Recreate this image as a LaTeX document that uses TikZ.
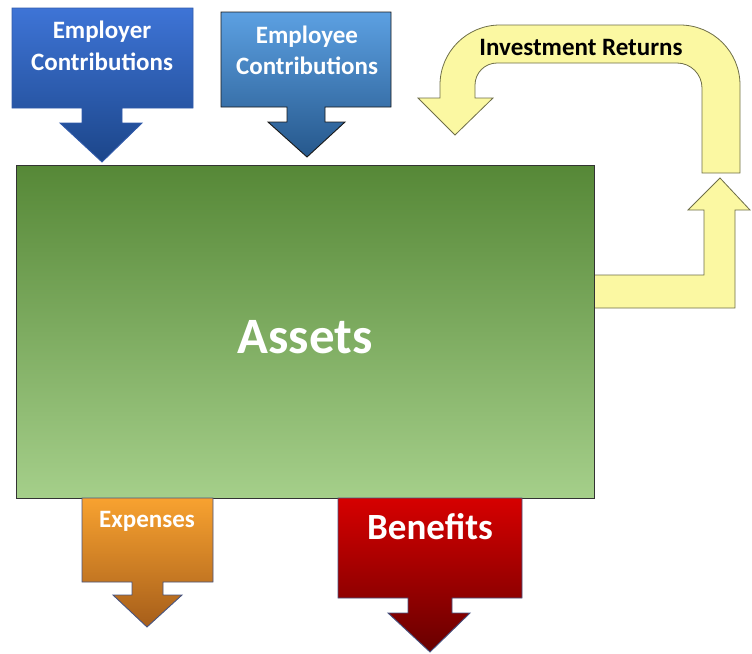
\documentclass[tikz,border=0pt]{standalone}
\usepackage{fontspec}
\setmainfont{Carlito}
\begin{document}
\begin{tikzpicture}[x=1pt,y=-1pt,
  lbl/.style={text=white,font=\bfseries,align=center,inner sep=0pt},
  callout/.style={line width=0.9pt,line join=miter}]
\definecolor{flowyellow}{HTML}{FBF8A2}
\definecolor{flowedge}{HTML}{6E6E48}
\useasboundingbox (0,0) rectangle (752,653);

% investment return loop (U-turn arrow back into the assets)
\path[fill=flowyellow,draw=flowedge,line width=0.8pt]
  (740,173) -- (740,85) arc[start angle=0,end angle=-90,radius=60]
  -- (500,25) arc[start angle=-90,end angle=-180,radius=60]
  -- (440,98) -- (418,98) -- (455,135) -- (493,98) -- (475,98)
  -- (475,85) arc[start angle=180,end angle=270,radius=22]
  -- (677,63) arc[start angle=270,end angle=360,radius=25]
  -- (702,173) -- cycle;
% outflow from the assets up to the loop
\path[fill=flowyellow,draw=flowedge,line width=0.8pt]
  (594,275) -- (704,275) -- (704,210) -- (688,210) -- (720,178)
  -- (750,210) -- (735,210) -- (735,308) -- (594,308);

% assets pool
\path[draw=black!80,line width=0.8pt,top color={rgb,255:red,86;green,136;blue,55},
  bottom color={rgb,255:red,165;green,207;blue,138}]
  (16,165) rectangle (594,498);
\node[lbl,font=\bfseries\fontsize{51}{55}\selectfont] (assets) at (305,337) {Assets};

% employer contributions
\path[callout,draw={rgb,255:red,48;green,90;blue,170},
  top color={rgb,255:red,62;green,116;blue,214},
  middle color={rgb,255:red,44;green,92;blue,180},
  bottom color={rgb,255:red,28;green,70;blue,138}]
  (12,8) -- (193,8) -- (193,108) -- (122,108) -- (122,123) -- (142,123)
  -- (102,162) -- (60,123) -- (82,123) -- (82,108) -- (12,108) -- cycle;
\node[lbl,font=\bfseries\fontsize{25}{32}\selectfont] (employer) at (102,46) {Employer\\Contributions};

% employee contributions
\path[callout,draw=black!90,
  top color={rgb,255:red,92;green,160;blue,226},
  middle color={rgb,255:red,64;green,126;blue,196},
  bottom color={rgb,255:red,38;green,88;blue,140}]
  (221,12) -- (391,12) -- (391,107) -- (325,107) -- (325,122) -- (345,122)
  -- (307,157) -- (268,122) -- (287,122) -- (287,107) -- (221,107) -- cycle;
\node[lbl,font=\bfseries\fontsize{25}{31}\selectfont] (employee) at (307,50) {Employee\\Contributions};

% expenses
\path[callout,draw={rgb,255:red,70;green,84;blue,130},
  top color={rgb,255:red,248;green,162;blue,48},
  middle color={rgb,255:red,234;green,136;blue,34},
  bottom color={rgb,255:red,166;green,94;blue,26}]
  (82,498) -- (213,498) -- (213,582) -- (163,582) -- (163,595) -- (182,595)
  -- (147,627) -- (113,595) -- (132,595) -- (132,582) -- (82,582) -- cycle;
\node[lbl,font=\bfseries\fontsize{25}{28}\selectfont] (expenses) at (147,521) {Expenses};

% benefits
\path[callout,draw={rgb,255:red,70;green,84;blue,130},
  top color={rgb,255:red,214;green,0;blue,0},
  middle color={rgb,255:red,178;green,0;blue,0},
  bottom color={rgb,255:red,104;green,0;blue,0}]
  (338,498) -- (522,498) -- (522,598) -- (452,598) -- (452,613) -- (470,613)
  -- (430,652) -- (388,613) -- (408,613) -- (408,598) -- (338,598) -- cycle;
\node[lbl,font=\bfseries\fontsize{37}{40}\selectfont] (benefits) at (430,527) {Benefits};

\node[inner sep=0pt,font=\bfseries\fontsize{25}{28}\selectfont] (returns) at (581,47) {Investment Returns};
\end{tikzpicture}
\end{document}
